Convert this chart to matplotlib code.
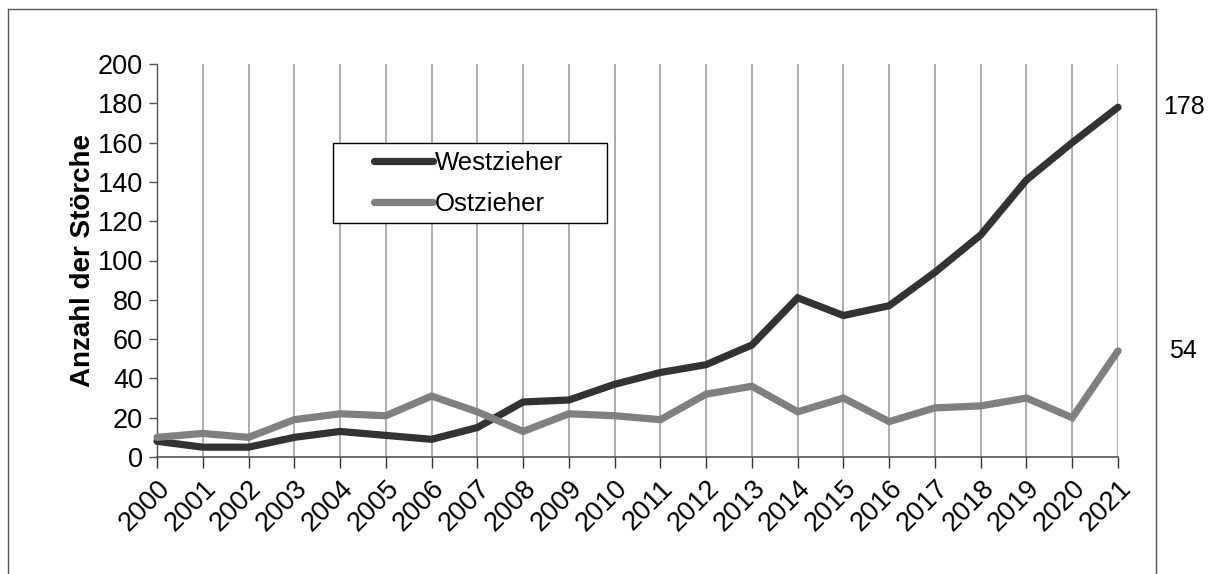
import matplotlib
matplotlib.use("Agg")
from matplotlib import pyplot as plt
from matplotlib.lines import Line2D
from matplotlib.patches import Rectangle
from matplotlib.transforms import blended_transform_factory

plt.rcParams["font.family"] = ["Liberation Sans", "DejaVu Sans"]

# Data
YEARS = list(range(2000, 2022))
WEST = [8, 5, 5, 10, 13, 11, 9, 15, 28, 29, 37, 43, 47, 57, 81, 72, 77, 94, 113, 141, 160, 178]
OST = [10, 12, 10, 19, 22, 21, 31, 23, 13, 22, 21, 19, 32, 36, 23, 30, 18, 25, 26, 30, 20, 54]

W, H = 1216, 574
fig = plt.figure(figsize=(W / 100, H / 100), dpi=100)
ax = fig.add_axes([157 / W, 1 - 457 / H, (1118 - 157) / W, (457 - 64) / H])

# Outer frame (open at the bottom, like the cropped original)
frame_kw = dict(color="#555555", lw=1.0, transform=fig.transFigure)
fig.add_artist(Line2D([8 / W, 8 / W], [0, 1 - 9 / H], **frame_kw))
fig.add_artist(Line2D([8 / W, 1156 / W], [1 - 9 / H, 1 - 9 / H], **frame_kw))
fig.add_artist(Line2D([1156 / W, 1156 / W], [1 - 9 / H, 0], **frame_kw))

# Lines
ax.plot(YEARS, WEST, color="#333333", lw=5.2, solid_capstyle="round", solid_joinstyle="miter",
        label="Westzieher", zorder=3, clip_on=False)
ax.plot(YEARS, OST, color="#808080", lw=5.2, solid_capstyle="round", solid_joinstyle="miter",
        label="Ostzieher", zorder=3, clip_on=False)

# Axes
ax.set_xlim(YEARS[0], YEARS[-1])
ax.set_ylim(0, 200)
ax.set_xticks(YEARS)
ax.set_xticklabels([str(y) for y in YEARS], rotation=45, ha="right", va="top",
                   rotation_mode="anchor", fontsize=19.5)
ax.set_yticks(range(0, 201, 20))
ax.tick_params(axis="y", labelsize=19.5, length=6, width=1, color="#555555", pad=4)
ax.tick_params(axis="x", length=8, width=1, color="#333333", pad=5)
ax.grid(axis="x", color="#a0a0a0", lw=1.2)
ax.set_axisbelow(True)
for s in ["top", "right"]:
    ax.spines[s].set_visible(False)
ax.spines["left"].set_color("#555555")
ax.spines["bottom"].set_color("#555555")
ax.spines["left"].set_linewidth(1.0)
ax.spines["bottom"].set_linewidth(1.2)

ax.set_ylabel("Anzahl der Störche", fontsize=20, fontweight="bold", labelpad=1)

# End value labels outside the plot, at the data height
tr = blended_transform_factory(fig.transFigure, ax.transData)
ax.text(1163 / W, WEST[-1], str(WEST[-1]), transform=tr, fontsize=18, va="center")
ax.text(1169 / W, OST[-1], str(OST[-1]), transform=tr, fontsize=18, va="center")

# Legend box drawn separately, entries without frame inside it
fig.add_artist(Rectangle((333 / W, 1 - 223 / H), (607 - 333) / W, (223 - 143) / H,
                         transform=fig.transFigure, fill=True, facecolor="white",
                         edgecolor="black", lw=1.0, zorder=4))
leg = fig.legend(loc="upper left", bbox_to_anchor=(374 / W, 1 - 151 / H),
                 fontsize=18.5, frameon=False, handlelength=2.3, handletextpad=0.08,
                 borderpad=0, labelspacing=0.68, borderaxespad=0)
leg.set_zorder(5)
for h in leg.get_lines():
    h.set_solid_capstyle("round")

fig.savefig("out.png", dpi=100)
